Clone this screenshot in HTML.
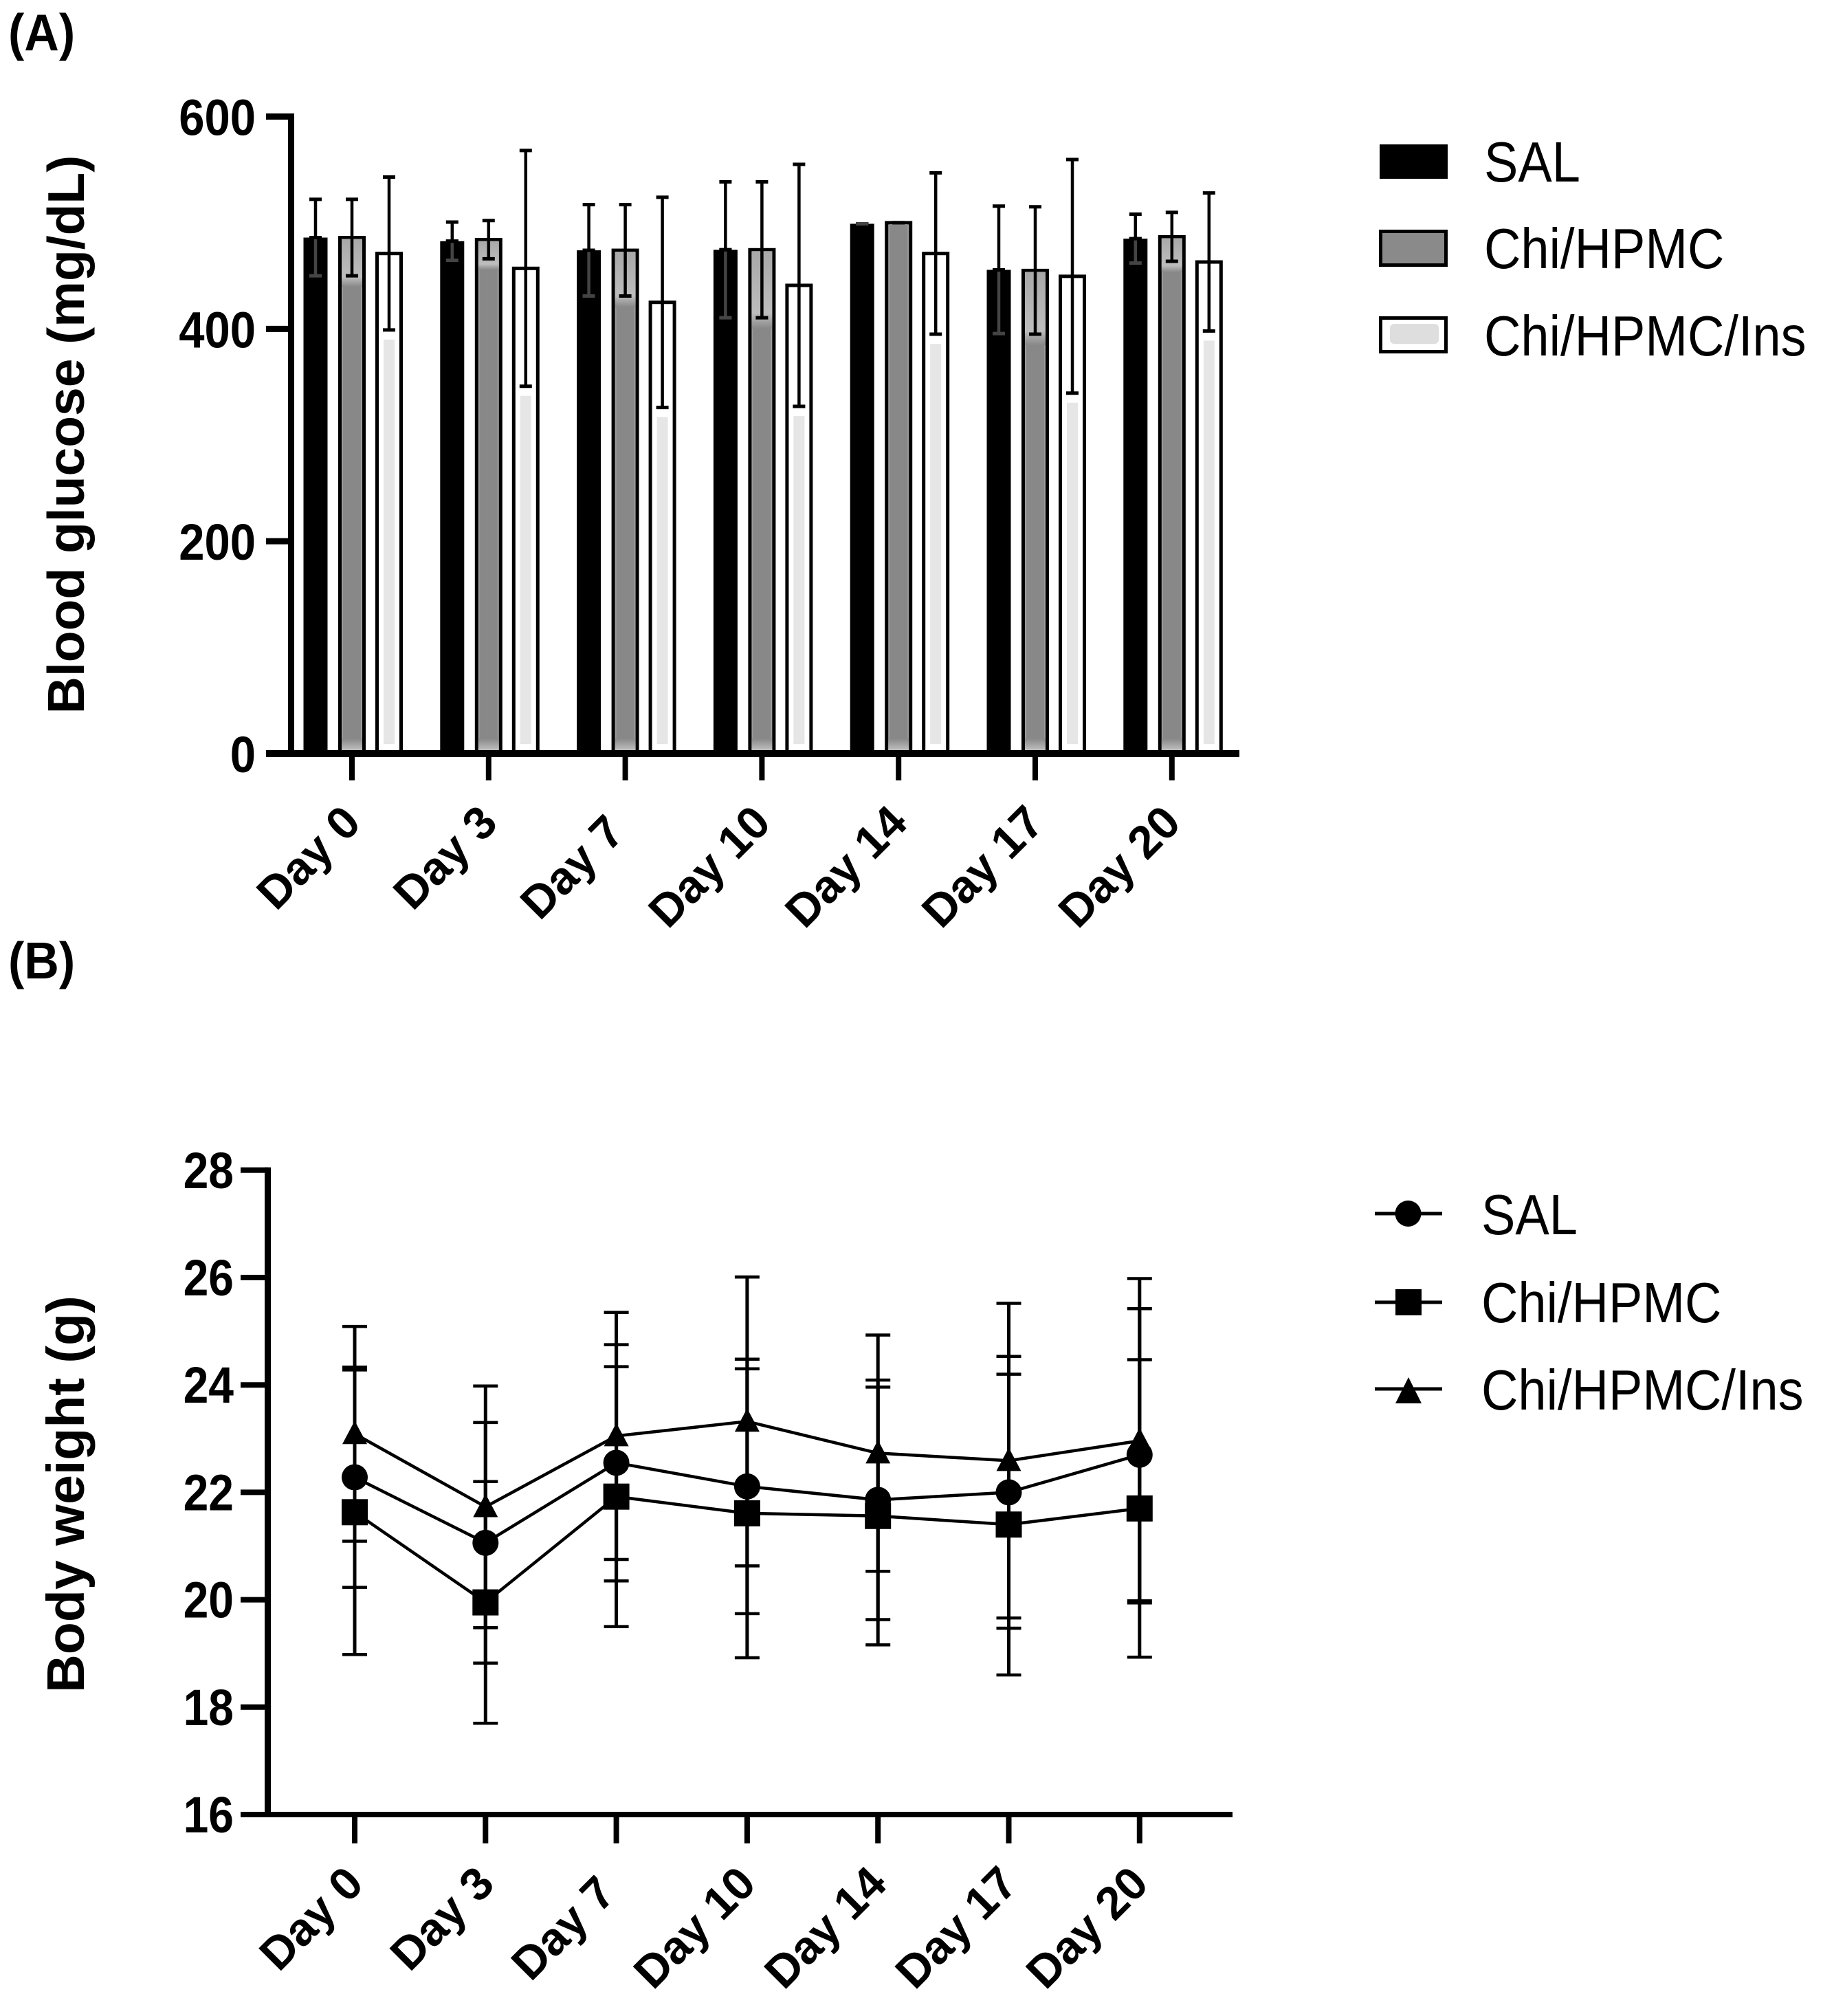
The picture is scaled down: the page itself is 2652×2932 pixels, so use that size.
<!DOCTYPE html>
<html lang="en">
<head>
<meta charset="utf-8">
<title>Blood glucose and body weight</title>
<style>
html,body{margin:0;padding:0;background:#fff;}
svg{display:block;font-family:"Liberation Sans",sans-serif;}
.b{font-weight:700;fill:#000;}
.r{font-weight:400;fill:#000;}
</style>
</head>
<body>
<svg id="chart" xmlns="http://www.w3.org/2000/svg" width="2652" height="2932" viewBox="0 0 2652 2932">
<rect x="0" y="0" width="2652" height="2932" fill="#fff"/>

<text class="b" font-size="70" transform="translate(12,73) scale(1,1.07)">(A)</text>
<text class="b" font-size="70" transform="translate(12,1423) scale(1,1.07)">(B)</text>

<text class="b" font-size="75" text-anchor="middle" transform="translate(122,632) rotate(-90)">Blood glucose (mg/dL)</text>
<text class="b" font-size="77" text-anchor="middle" transform="translate(122,2173) rotate(-90)">Body weight (g)</text>

<g id="plotA"></g>
<g id="plotB"></g>

<g>
  <g>
    <rect x="2007" y="210" width="99" height="50" fill="#000"/>
    <text class="r" font-size="74" transform="translate(2159,264) scale(1,1.12)">SAL</text>
  </g>
  <g>
    <rect x="2008.5" y="336.5" width="95" height="49" fill="#8a8a8a" stroke="#000" stroke-width="5"/>
    <text class="r" font-size="74" transform="translate(2159,390) scale(1,1.12)">Chi/HPMC</text>
  </g>
  <g>
    <rect x="2008.5" y="462.5" width="95" height="49" fill="#fff" stroke="#000" stroke-width="5"/>
    <rect x="2022" y="471" width="71" height="29" rx="6" fill="#dedede"/>
    <text class="r" font-size="74" transform="translate(2159,517) scale(1,1.12)">Chi/HPMC/Ins</text>
  </g>
</g>

<g>
  <g>
    <line x1="2000" y1="1765" x2="2098" y2="1765" stroke="#000" stroke-width="5"/>
    <circle cx="2048.5" cy="1765" r="19" fill="#000"/>
    <text class="r" font-size="74" transform="translate(2155,1795) scale(1,1.12)">SAL</text>
  </g>
  <g>
    <line x1="2000" y1="1894" x2="2098" y2="1894" stroke="#000" stroke-width="5"/>
    <rect x="2030" y="1875" width="38" height="38" fill="#000"/>
    <text class="r" font-size="74" transform="translate(2155,1923) scale(1,1.12)">Chi/HPMC</text>
  </g>
  <g>
    <line x1="2000" y1="2020" x2="2098" y2="2020" stroke="#000" stroke-width="5"/>
    <polygon points="2049,2003 2068,2041 2030,2041" fill="#000"/>
    <text class="r" font-size="74" transform="translate(2155,2050) scale(1,1.12)">Chi/HPMC/Ins</text>
  </g>
</g>
</svg>

<script>
// Shared categories
const days = ['Day 0', 'Day 3', 'Day 7', 'Day 10', 'Day 14', 'Day 17', 'Day 20'];

// Panel A: blood glucose (mg/dL)
const glucoseTicks = [0, 200, 400, 600];
const glucoseSal = [486, 482.6, 474, 474.5, 499, 455.6, 485];
const glucoseSalSd = [36, 18, 43, 64, 0, 60, 23];
const glucoseHpmc = [486, 484, 474, 474.5, 500, 455, 486.7];
const glucoseHpmcSd = [36, 18, 43, 64, 0, 60, 23];
const glucoseIns = [471, 457, 425, 441, 471, 449.5, 463];
const glucoseInsSd = [72, 111, 99, 114, 76, 110, 65];

// Panel B: body weight (g)
const weightTicks = [16, 18, 20, 22, 24, 26, 28];
const weightSal = [22.28, 21.06, 22.55, 22.11, 21.86, 22.0, 22.7];
const weightSalSd = [2.05, 2.24, 2.2, 2.37, 2.23, 2.53, 2.72];
const weightHpmc = [21.63, 19.95, 21.92, 21.61, 21.56, 21.4, 21.7];
const weightHpmcSd = [2.65, 2.25, 2.42, 2.69, 2.4, 2.8, 2.77];
const weightIns = [23.09, 21.73, 23.05, 23.32, 22.73, 22.59, 22.96];
const weightInsSd = [2.0, 2.25, 2.3, 2.69, 2.2, 2.93, 3.02];

const NS = 'http://www.w3.org/2000/svg';
const svg = document.getElementById('chart');
const plotA = document.getElementById('plotA');
const plotB = document.getElementById('plotB');

function make(parent, tag, props) {
  const node = document.createElementNS(NS, tag);
  for (const k in props) node.setAttribute(k, props[k]);
  parent.appendChild(node);
  return node;
}

// Gradient definitions for the grey bars
const defs = make(svg, 'defs', {});
const topGrad = make(defs, 'linearGradient', {id: 'greyTop', x1: 0, y1: 0, x2: 0, y2: 1});
make(topGrad, 'stop', {offset: '0', 'stop-color': '#a8a8a8'});
make(topGrad, 'stop', {offset: '0.8', 'stop-color': '#bdbdbd'});
make(topGrad, 'stop', {offset: '1', 'stop-color': '#888888'});
const bottomGrad = make(defs, 'linearGradient', {id: 'greyBottom', x1: 0, y1: 0, x2: 0, y2: 1});
make(bottomGrad, 'stop', {offset: '0', 'stop-color': '#888888'});
make(bottomGrad, 'stop', {offset: '1', 'stop-color': '#cfcfcf'});

/* ---------- Panel A ---------- */
const ax = i => 512 + 198.8 * i;
const ay = v => 1096 - v * 1.5442;

function errorBar(parent, x, top, bottom, capW, capH, stemW, color) {
  const stem = make(parent, 'line', {x1: x, x2: x, y1: top, y2: bottom, stroke: color, 'stroke-width': stemW});
  
  
  const capTop = make(parent, 'line', {x1: x - capW / 2, x2: x + capW / 2, y1: top, y2: top, stroke: '#000', 'stroke-width': capH});
  
  
  const capBottom = make(parent, 'line', {x1: x - capW / 2, x2: x + capW / 2, y1: bottom, y2: bottom, stroke: color, 'stroke-width': capH});
  
  
}

days.forEach((day, i) => {
  const base = ay(0);
  const xBlack = ax(i) - 53;
  const xGrey = ax(i);
  const xWhite = ax(i) + 54;

  // SAL bar
  const barSal = make(plotA, 'rect', {x: xBlack - 17.5, y: ay(glucoseSal[i]), width: 35, height: base - ay(glucoseSal[i]), fill: '#000'});
  
  

  // Chi/HPMC bar
  const barGrey = make(plotA, 'rect', {x: xGrey - 17.5, y: ay(glucoseHpmc[i]), width: 35, height: base - ay(glucoseHpmc[i]), fill: '#9c9c9c', stroke: '#000', 'stroke-width': 5});
  
  
  const greyCore = make(plotA, 'rect', {x: xGrey - 13, y: ay(glucoseHpmc[i]) + 2, width: 26, height: base - ay(glucoseHpmc[i]) - 2, fill: '#888'});
  
  
  const lowCapY = ay(glucoseHpmc[i] - glucoseHpmcSd[i]);
  if (glucoseHpmcSd[i] > 0) {
    const greyTop = make(plotA, 'rect', {x: xGrey - 15, y: ay(glucoseHpmc[i]) + 2, width: 30, height: lowCapY + 16 - ay(glucoseHpmc[i]) - 2, fill: 'url(#greyTop)'});
    
    
  }
  const greyFoot = make(plotA, 'rect', {x: xGrey - 15, y: base - 22, width: 30, height: 22, fill: 'url(#greyBottom)'});
  
  

  // Chi/HPMC/Ins bar
  const barWhite = make(plotA, 'rect', {x: xWhite - 17.5, y: ay(glucoseIns[i]), width: 35, height: base - ay(glucoseIns[i]), fill: '#fff', stroke: '#000', 'stroke-width': 5});
  
  
  const whiteCoreTop = ay(glucoseIns[i] - glucoseInsSd[i]) + 14;
  const whiteCore = make(plotA, 'rect', {x: xWhite - 8, y: whiteCoreTop, width: 16, height: base - 14 - whiteCoreTop, fill: '#e6e6e6'});
  
  

  // Error bars
  errorBar(plotA, xBlack, ay(glucoseSal[i] + glucoseSalSd[i]), ay(glucoseSal[i]), 18, 5, 4.5, '#000');
  errorBar(plotA, xBlack, ay(glucoseSal[i]), ay(glucoseSal[i] - glucoseSalSd[i]), 18, 5, 4.5, '#444');
  errorBar(plotA, xGrey, ay(glucoseHpmc[i] + glucoseHpmcSd[i]), ay(glucoseHpmc[i] - glucoseHpmcSd[i]), 18, 5, 4.5, '#000');
  errorBar(plotA, xWhite, ay(glucoseIns[i] + glucoseInsSd[i]), ay(glucoseIns[i] - glucoseInsSd[i]), 18, 5, 4.5, '#000');
});

// Panel A axes
const aYAxis = make(plotA, 'line', {x1: 423.5, x2: 423.5, y1: ay(600) - 4.5, y2: ay(0), stroke: '#000', 'stroke-width': 9});


const aXAxis = make(plotA, 'line', {x1: 387, x2: 1803, y1: ay(0), y2: ay(0), stroke: '#000', 'stroke-width': 10});



glucoseTicks.forEach(t => {
  const mark = make(plotA, 'line', {x1: 387, x2: 424, y1: ay(t), y2: ay(t), stroke: '#000', 'stroke-width': 9});
  
  
  const lab = make(plotA, 'text', {class: 'b', 'font-size': 67, 'text-anchor': 'end', transform: 'translate(372,' + (ay(t) + 27) + ') scale(1,1.11)'});
  lab.textContent = t;
  
  
});

days.forEach((day, i) => {
  const mark = make(plotA, 'line', {x1: ax(i), x2: ax(i), y1: ay(0), y2: 1135, stroke: '#000', 'stroke-width': 8});
  
  
  const nudge = day === 'Day 7' ? 14 : 0;
  const lab = make(plotA, 'text', {class: 'b', 'font-size': 67, 'text-anchor': 'end', transform: 'translate(' + (ax(i) + 16 - nudge) + ',' + (1200 + nudge) + ') rotate(-45)'});
  lab.textContent = day;
  
  
});

/* ---------- Panel B ---------- */
const bx = i => 516 + 190.3 * i;
const by = v => 2639 - (v - 16) * 78.1;

function seriesPath(values) {
  return values.map((v, i) => (i ? 'L' : 'M') + bx(i) + ' ' + by(v)).join(' ');
}

const lineSal = make(plotB, 'path', {d: seriesPath(weightSal), fill: 'none', stroke: '#000', 'stroke-width': 4.5});


const lineHpmc = make(plotB, 'path', {d: seriesPath(weightHpmc), fill: 'none', stroke: '#000', 'stroke-width': 4.5});


const lineIns = make(plotB, 'path', {d: seriesPath(weightIns), fill: 'none', stroke: '#000', 'stroke-width': 4.5});



days.forEach((day, i) => {
  const x = bx(i);
  errorBar(plotB, x, by(weightSal[i] + weightSalSd[i]), by(weightSal[i] - weightSalSd[i]), 36, 4.5, 5, '#000');
  errorBar(plotB, x, by(weightHpmc[i] + weightHpmcSd[i]), by(weightHpmc[i] - weightHpmcSd[i]), 36, 4.5, 5, '#000');
  errorBar(plotB, x, by(weightIns[i] + weightInsSd[i]), by(weightIns[i] - weightInsSd[i]), 36, 4.5, 5, '#000');

  const circle = make(plotB, 'circle', {cx: x, cy: by(weightSal[i]), r: 19, fill: '#000'});
  
  

  const square = make(plotB, 'rect', {x: x - 19, y: by(weightHpmc[i]) - 19, width: 38, height: 38, fill: '#000'});
  
  

  const yT = by(weightIns[i]);
  const triangle = make(plotB, 'polygon', {points: x + ',' + (yT - 19) + ' ' + (x + 18) + ',' + (yT + 15) + ' ' + (x - 18) + ',' + (yT + 15), fill: '#000'});
  
  
});

// Panel B axes
const bYAxis = make(plotB, 'line', {x1: 389.5, x2: 389.5, y1: by(28) - 4, y2: by(16), stroke: '#000', 'stroke-width': 9});


const bXAxis = make(plotB, 'line', {x1: 350, x2: 1793, y1: by(16), y2: by(16), stroke: '#000', 'stroke-width': 8});



weightTicks.forEach(t => {
  const mark = make(plotB, 'line', {x1: 350, x2: 390, y1: by(t), y2: by(t), stroke: '#000', 'stroke-width': 8});
  
  
  const lab = make(plotB, 'text', {class: 'b', 'font-size': 66, 'text-anchor': 'end', transform: 'translate(340,' + (by(t) + 26) + ') scale(1,1.12)'});
  lab.textContent = t;
  
  
});

days.forEach((day, i) => {
  const mark = make(plotB, 'line', {x1: bx(i), x2: bx(i), y1: by(16), y2: 2681, stroke: '#000', 'stroke-width': 8});
  
  
  const nudge = day === 'Day 7' ? 14 : 0;
  const lab = make(plotB, 'text', {class: 'b', 'font-size': 67, 'text-anchor': 'end', transform: 'translate(' + (bx(i) + 16 - nudge) + ',' + (2743 + nudge) + ') rotate(-45)'});
  lab.textContent = day;
  
  
});
</script>
</body>
</html>
